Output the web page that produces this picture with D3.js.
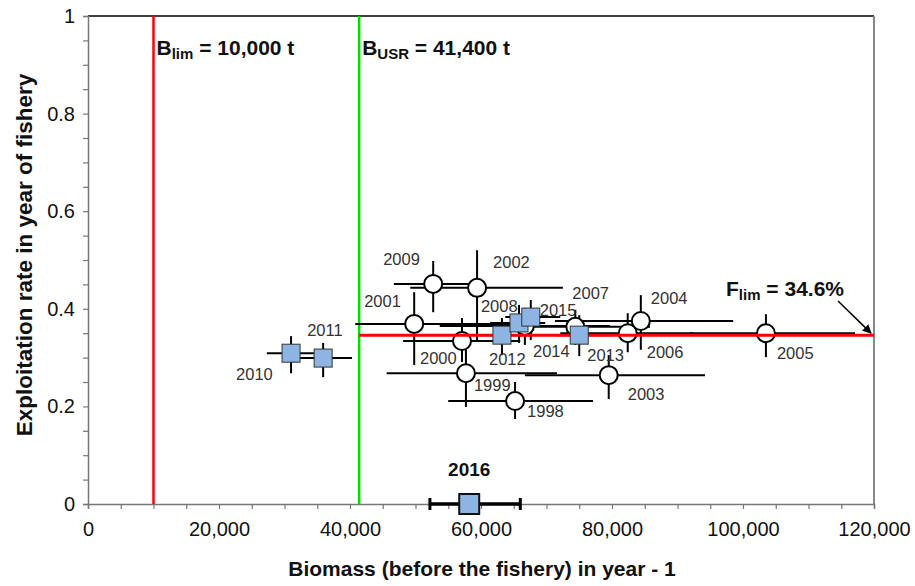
<!DOCTYPE html>
<html>
<head>
<meta charset="utf-8">
<script src="https://cdn.jsdelivr.net/npm/d3@7"></script>
<style>
  html, body { margin: 0; padding: 0; background: #fff; }
  svg { display: block; font-family: "Liberation Sans", Arial, sans-serif; }
</style>
</head>
<body>
<svg id="chart" width="915" height="586"></svg>
<script>
// Stock status: biomass vs exploitation rate, with 95% intervals
const years      = [1998, 1999, 2000, 2001, 2002, 2003, 2004, 2005, 2006, 2007, 2008, 2009, 2010, 2011, 2012, 2013, 2014, 2015];
const biomass    = [65200, 57700, 57100, 49800, 59400, 79500, 84400, 103500, 82400, 74400, 66700, 52700, 31000, 35900, 63200, 75000, 65800, 67600];
const biomassLo  = [55000, 45600, 48100, 40800, 49200, 66700, 71300, 91900, 72100, 62900, 53700, 46700, 27300, 32100, 59800, 71300, 61400, 63700];
const biomassHi  = [77100, 71600, 66000, 66000, 72500, 94200, 98500, 117100, 92400, 85800, 79700, 59900, 35100, 40300, 67500, 79700, 69800, 72100];
const rate       = [0.211, 0.268, 0.334, 0.369, 0.443, 0.264, 0.375, 0.350, 0.350, 0.363, 0.365, 0.451, 0.309, 0.299, 0.346, 0.346, 0.371, 0.383];
const rateLo     = [0.174, 0.199, 0.291, 0.285, 0.336, 0.215, 0.316, 0.301, 0.311, 0.326, 0.326, 0.393, 0.268, 0.260, 0.305, 0.303, 0.330, 0.336];
const rateHi     = [0.250, 0.316, 0.381, 0.434, 0.520, 0.305, 0.428, 0.389, 0.391, 0.398, 0.402, 0.498, 0.344, 0.330, 0.381, 0.387, 0.408, 0.418];
// estimate method: "survey" (open circles) or "model" (filled squares)
const method     = ["survey","survey","survey","survey","survey","survey","survey","survey","survey","survey","survey","survey","model","model","model","model","model","model"];

// Current-year biomass (no exploitation rate yet)
const currentYear = 2016;
const currentBiomass = 58200;
const currentBiomassLo = 52200;
const currentBiomassHi = 66000;

// Reference points
const Blim = 10000;
const Busr = 41400;
const Flim = 0.346;

// Axis ticks
const xTickLabels = [0, 20000, 40000, 60000, 80000, 100000, 120000];
const yTickLabels = [0, 0.2, 0.4, 0.6, 0.8, 1];

// Year label placement around each marker: [dx, dy] in px (left edge, baseline)
const labelOffset = {
  1998: [12, 16], 1999: [8, 18], 2000: [-42, 23], 2001: [-50, -17], 2002: [16, -20],
  2003: [19, 25], 2004: [10, -17], 2005: [11, 26], 2006: [19, 25], 2007: [-3, -28],
  2008: [-44, -14], 2009: [-50, -19], 2010: [-55, 27], 2011: [-16, -22], 2012: [-13, 30],
  2013: [8, 26], 2014: [14, 34], 2015: [9, -1]
};

const svg = d3.select("#chart");
const x = d3.scaleLinear().domain([0, 120000]).range([88, 874]);
const y = d3.scaleLinear().domain([0, 1]).range([504, 16]);

// Frame: top and right edges
svg.append("line").attr("x1", x(0)).attr("x2", x(120000)).attr("y1", y(1)).attr("y2", y(1))
  .attr("stroke", "#000").attr("stroke-width", 1.5);
svg.append("line").attr("x1", x(120000)).attr("x2", x(120000)).attr("y1", y(1)).attr("y2", y(0))
  .attr("stroke", "#888").attr("stroke-width", 2);

// X axis
const xAxis = d3.axisBottom(x)
  .tickValues(d3.range(0, 120001, 5000))
  .tickSize(5)
  .tickFormat(v => xTickLabels.includes(v) ? d3.format(",")(v) : "");
const gx = svg.append("g").attr("transform", `translate(0,${y(0)})`).call(xAxis);
gx.select(".domain").attr("stroke", "#777").attr("stroke-width", 1.5);
gx.selectAll(".tick line").attr("stroke", "#777").attr("stroke-width", 1.2);
gx.selectAll(".tick text").attr("font-size", 20).attr("fill", "#111").attr("dy", 24)
  .attr("font-family", "Liberation Sans, Arial, sans-serif");

// Y axis
const yAxis = d3.axisLeft(y)
  .tickValues(d3.range(0, 21).map(i => i / 20))
  .tickSize(5)
  .tickFormat(v => yTickLabels.some(t => Math.abs(t - v) < 1e-9) ? d3.format("")(+v.toFixed(1)) : "");
const gy = svg.append("g").attr("transform", `translate(${x(0)},0)`).call(yAxis);
gy.select(".domain").attr("stroke", "#777").attr("stroke-width", 1.5);
gy.selectAll(".tick line").attr("stroke", "#777").attr("stroke-width", 1.2);
gy.selectAll(".tick text").attr("font-size", 20).attr("fill", "#111").attr("x", -13)
  .attr("font-family", "Liberation Sans, Arial, sans-serif");

// Axis titles
svg.append("text").attr("x", 482).attr("y", 576).attr("text-anchor", "middle")
  .attr("font-size", 21).attr("font-weight", "bold").attr("fill", "#111")
  .text("Biomass (before the fishery) in year - 1");
svg.append("text").attr("transform", "translate(32,255) rotate(-90)").attr("text-anchor", "middle")
  .attr("font-size", 22.5).attr("font-weight", "bold").attr("fill", "#111")
  .text("Exploitation rate in year of fishery");

// Biomass reference lines
svg.append("line").attr("x1", x(Blim)).attr("x2", x(Blim)).attr("y1", y(1)).attr("y2", y(0))
  .attr("stroke", "#ff0000").attr("stroke-width", 2.5);
svg.append("line").attr("x1", x(Busr)).attr("x2", x(Busr)).attr("y1", y(1)).attr("y2", y(0))
  .attr("stroke", "#00e000").attr("stroke-width", 2.5);

function refLabel(px, py, main, sub, rest) {
  const t = svg.append("text").attr("x", px).attr("y", py)
    .attr("font-size", 21).attr("font-weight", "bold").attr("fill", "#111");
  t.append("tspan").text(main);
  t.append("tspan").attr("font-size", 15).attr("dy", 4).text(sub);
  t.append("tspan").attr("dy", -4).text(rest);
}
refLabel(x(Blim) + 3, 55, "B", "lim", " = 10,000 t");
refLabel(x(Busr) + 3, 55, "B", "USR", " = 41,400 t");

// Error bars
const idx = d3.range(years.length);
const bars = svg.append("g").attr("stroke", "#000").attr("stroke-width", 2);
bars.selectAll("line.h").data(idx).join("line").attr("class", "h")
  .attr("x1", i => x(biomassLo[i])).attr("x2", i => x(biomassHi[i]))
  .attr("y1", i => y(rate[i])).attr("y2", i => y(rate[i]));
bars.selectAll("line.v").data(idx).join("line").attr("class", "v")
  .attr("x1", i => x(biomass[i])).attr("x2", i => x(biomass[i]))
  .attr("y1", i => y(rateLo[i])).attr("y2", i => y(rateHi[i]));

// Open circles
const circ = idx.filter(i => method[i] === "survey");
svg.append("g").selectAll("circle").data(circ).join("circle")
  .attr("cx", i => x(biomass[i])).attr("cy", i => y(rate[i])).attr("r", 9)
  .attr("fill", "#fff").attr("stroke", "#000").attr("stroke-width", 2);

// Flim line and its label with arrow
svg.append("line").attr("x1", x(Busr)).attr("x2", x(120000)).attr("y1", y(Flim)).attr("y2", y(Flim))
  .attr("stroke", "#ff0000").attr("stroke-width", 3);
svg.append("defs").append("marker").attr("id", "arr").attr("viewBox", "0 0 10 10")
  .attr("refX", 9).attr("refY", 5).attr("markerWidth", 6).attr("markerHeight", 6)
  .attr("orient", "auto").append("path").attr("d", "M0,0L10,5L0,10z").attr("fill", "#000");
svg.append("line").attr("x1", 838).attr("x2", x(120000) - 3).attr("y1", 301).attr("y2", y(Flim) - 2)
  .attr("stroke", "#000").attr("stroke-width", 1.5).attr("marker-end", "url(#arr)");
refLabel(726, 296, "F", "lim", " = 34.6%");

// Filled squares
const sq = idx.filter(i => method[i] === "model");
svg.append("g").selectAll("rect").data(sq).join("rect")
  .attr("x", i => x(biomass[i]) - 9).attr("y", i => y(rate[i]) - 9)
  .attr("width", 18).attr("height", 18)
  .attr("fill", "#8db4e2").attr("stroke", "#333").attr("stroke-width", 1);

// Year labels
svg.append("g").selectAll("text").data(idx).join("text")
  .attr("x", i => x(biomass[i]) + labelOffset[years[i]][0])
  .attr("y", i => y(rate[i]) + labelOffset[years[i]][1])
  .attr("font-size", 16.5).attr("fill", "#333")
  .text(i => years[i]);

// Current year biomass on the x axis
const cy = y(0);
svg.append("line").attr("x1", x(currentBiomassLo)).attr("x2", x(currentBiomassHi)).attr("y1", cy).attr("y2", cy)
  .attr("stroke", "#000").attr("stroke-width", 3.5);
[currentBiomassLo, currentBiomassHi].forEach(v => {
  svg.append("line").attr("x1", x(v)).attr("x2", x(v)).attr("y1", cy - 6).attr("y2", cy + 6)
    .attr("stroke", "#000").attr("stroke-width", 3);
});
svg.append("rect").attr("x", x(currentBiomass) - 10).attr("y", cy - 10).attr("width", 20).attr("height", 20)
  .attr("fill", "#8db4e2").attr("stroke", "#111").attr("stroke-width", 2);
svg.append("text").attr("x", x(currentBiomass)).attr("y", cy - 28).attr("text-anchor", "middle")
  .attr("font-size", 19).attr("font-weight", "bold").attr("fill", "#111").text(currentYear);
</script>
</body>
</html>
